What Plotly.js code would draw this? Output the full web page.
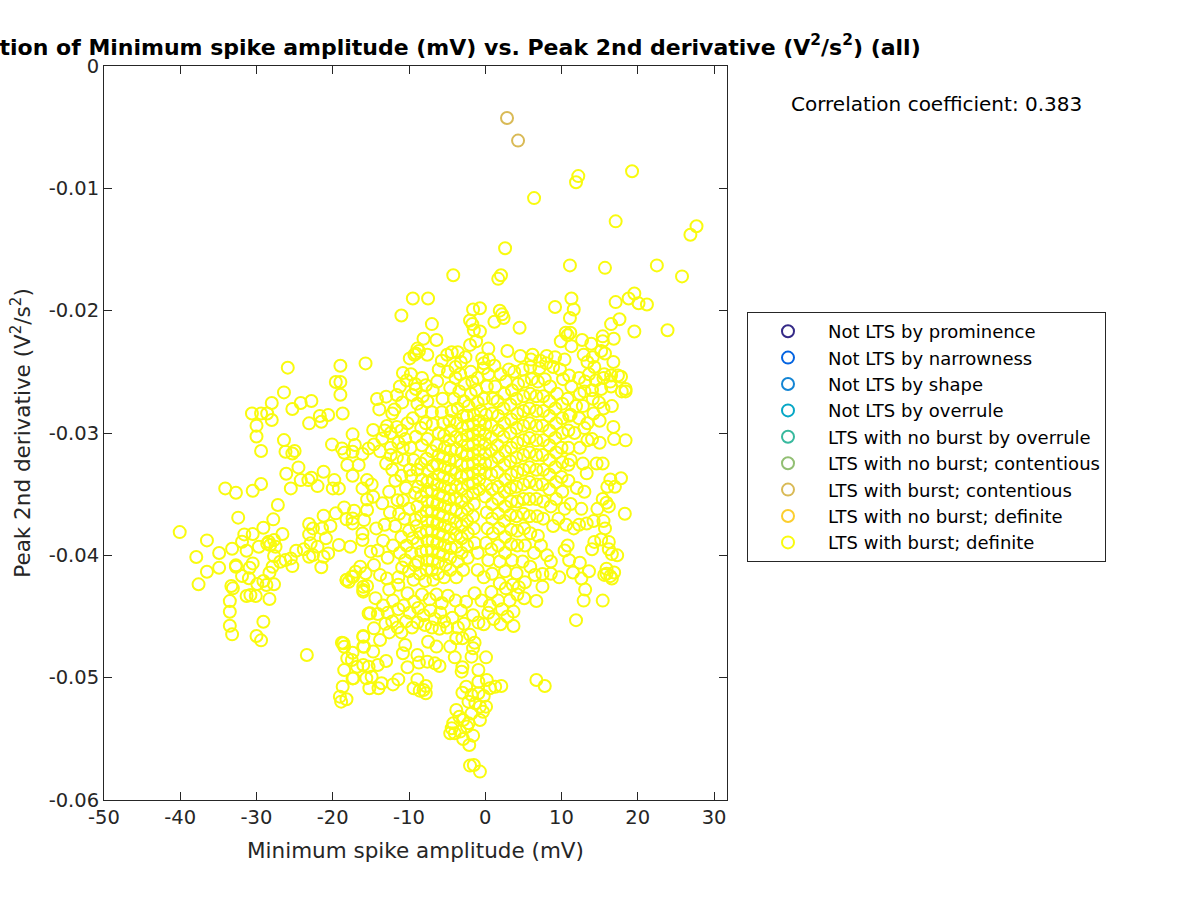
<!DOCTYPE html>
<html><head><meta charset="utf-8">
<script src="https://cdn.plot.ly/plotly-3.0.1.min.js"></script>
<style>html,body{margin:0;padding:0;background:#fff}</style></head>
<body><div id="chart" style="width:1200px;height:900px"></div>
<script>
const categories=["Not LTS by prominence","Not LTS by narrowness","Not LTS by shape","Not LTS by overrule","LTS with no burst by overrule","LTS with no burst; contentious","LTS with burst; contentious","LTS with no burst; definite","LTS with burst; definite"];
const colors=["#352A87","#0363E1","#1485D4","#06A7C6","#38B99E","#92BF73","#D9BA56","#FCCE2E","#F9FB0E"];
const xTicks=[-50,-40,-30,-20,-10,0,10,20,30];
const xTickLabels=["-50","-40","-30","-20","-10","0","10","20","30"];
const yTicks=[0,-0.01,-0.02,-0.03,-0.04,-0.05,-0.06];
const yTickLabels=["0","-0.01","-0.02","-0.03","-0.04","-0.05","-0.06"];
const burstContentious=[[2.85,-.00425],[4.3,-.0061]];
const burstDefiniteOuter=[[12.2,-.009],[11.9,-.0095],[19.25,-.0086],[6.4,-.0108],[17.1,-.0127],[27.7,-.0131],[26.9,-.0138],[2.6,-.0149],[11.1,-.0163],[15.7,-.0165],[22.5,-.0163],[25.8,-.0172],[-4.2,-.0171],[2.06,-.0171],[1.7,-.0174],[-9.5,-.019],[-7.5,-.019],[-11,-.0204],[-.7,-.0198],[-1.6,-.0199],[1.9,-.02],[2.2,-.0203],[2.4,-.0206],[1.2,-.0209],[-2,-.0208],[-1.7,-.0211],[-1.5,-.0216],[-.7,-.0217],[-1.2,-.0225],[-2,-.0228],[.4,-.0231],[4.5,-.0214],[2.9,-.0233],[-7,-.0211],[-8.1,-.0223],[-6.4,-.0224],[-8.9,-.0231],[-9.1,-.0235],[-9.75,-.0252],[-8.3,-.0255],[-9.2,-.026],[-7.8,-.0261],[9.15,-.0197],[11.3,-.019],[11.6,-.0199],[11.1,-.0206],[17.1,-.0193],[19.55,-.0186],[18.8,-.019],[20.1,-.0194],[21.2,-.0195],[17.6,-.0207],[16.5,-.0211],[19.55,-.0217],[23.9,-.0216],[10.55,-.0218],[11.15,-.0218],[10.8,-.022],[9.9,-.0225],[12.7,-.0224],[11.3,-.0229],[15.4,-.0221],[15.4,-.0225],[16.85,-.0223],[13.9,-.0227],[15.2,-.0233],[15.7,-.0235],[16.8,-.0242],[17.4,-.0253],[16.5,-.0253],[15.5,-.0255],[18.4,-.0264],[4.6,-.0237],[6.2,-.0236],[6,-.024],[8.05,-.0237],[9.15,-.0238],[12.9,-.0236],[14.1,-.0238],[13.4,-.0242],[14.3,-.0246],[10.4,-.024],[7.2,-.0241],[-40.07,-.0381],[-36.5,-.03878],[-37.9,-.04014],[-34.9,-.03981],[-36.5,-.04134],[-34.9,-.04101],[-37.6,-.04237],[-33.2,-.03946],[-32.4,-.03692],[-34.1,-.03453],[-32.7,-.03488],[-30.5,-.03472],[-29.4,-.03417],[-26.1,-.03333],[-25.5,-.03453],[-27.2,-.03589],[-27.8,-.03706],[-29.1,-.03774],[-31.6,-.03829],[-30.5,-.03826],[-31.9,-.03889],[-31.3,-.03962],[-29.7,-.0393],[-32.7,-.04082],[-32.7,-.04093],[-30.5,-.04066],[-30.9,-.04101],[-31.9,-.04169],[-31,-.04188],[-33.3,-.04251],[-33.1,-.0427],[-31.3,-.04333],[-30.8,-.04325],[-30.1,-.04333],[-28.3,-.04357],[-33.5,-.04374],[-33.5,-.04461],[-33.5,-.04575],[-33.2,-.04646],[-29.1,-.04543],[-30,-.0466],[-29.4,-.04695],[-23.4,-.04815],[-29.9,-.04235],[-29.1,-.0421],[-28.7,-.04243],[-27.7,-.04237],[-28.3,-.04142],[-27.9,-.04093],[-27.7,-.04006],[-26.9,-.04052],[-26.2,-.04039],[-25.3,-.04088],[-25.5,-.04025],[-24.8,-.03962],[-23.8,-.03951],[-23.1,-.04011],[-22.6,-.03998],[-21.5,-.04098],[-21.2,-.04011],[-20.6,-.03984],[-28.2,-.03916],[-27.7,-.03875],[-28.4,-.03889],[-27.5,-.0393],[-26.6,-.03826],[-28.6,-.03905],[-23.1,-.03744],[-22.6,-.0378],[-23.1,-.03829],[-22.9,-.03902],[-22,-.0393],[-21.2,-.03676],[-20.3,-.0376],[-21.4,-.0378],[-20.9,-.03861],[-19.6,-.03657],[-18.5,-.03608],[-18.2,-.03706],[-17.2,-.03635],[-17.4,-.03739],[-17.4,-.03698],[-15.9,-.03712],[-15.5,-.0363],[-19.2,-.03916],[-17.7,-.0393],[-16.1,-.03821],[-16.1,-.03875],[-15,-.0397],[-18.2,-.04202],[-17.5,-.04175],[-16.4,-.04093],[-17,-.04134],[-17.9,-.04216],[-16,-.04257],[-16,-.04297],[-15.7,-.04147],[-15.3,-.04475],[-14.6,-.04597],[-16,-.04665],[-18.8,-.04714],[-18.5,-.04747],[-15.9,-.04747],[-17.4,-.04796],[-18.1,-.04842],[-18.5,-.04938],[-16.8,-.04911],[-17.4,-.05006],[-15.3,-.04911],[-25.9,-.02466],[-19,-.0245],[-15.7,-.02431],[-19.6,-.02583],[-19,-.02583],[-19,-.02687],[-26.4,-.02668],[-28,-.02755],[-22.8,-.02739],[-24.2,-.02755],[-25.3,-.02804],[-30.6,-.0284],[-29.4,-.0284],[-28.6,-.0284],[-28,-.02894],[-30,-.0294],[-30,-.03028],[-29.4,-.03147],[-26.4,-.03058],[-26.2,-.03153],[-25.3,-.03167],[-25,-.03147],[-24.5,-.03281],[-24.2,-.03385],[-23.1,-.02921],[-21.7,-.02861],[-21.5,-.02908],[-20.6,-.02853],[-18.7,-.0284],[-22.8,-.03366],[-23.2,-.03385],[-22,-.03434],[-21.2,-.03317],[-19.8,-.03385],[-20,-.03453],[-19.2,-.03453],[-20.1,-.03093],[-18.8,-.03126],[-18.5,-.03161],[-17.4,-.03011],[-17.1,-.03098],[-17.4,-.03153],[-16.1,-.03172],[-15.3,-.03126],[-14.6,-.03093],[-18.1,-.03262],[-16.6,-.03262],[-17.4,-.03349],[-15.5,-.03385],[-16.1,-.03453],[-14.9,-.0342],[-15.5,-.03543],[-14.7,-.03521],[-13.5,-.03575],[-14.2,-.02722],[-13,-.02703],[-11.6,-.0269],[-13.9,-.02807],[-12.2,-.0284],[-11.9,-.02807],[-14.7,-.02976],[-12.9,-.02943],[-13.5,-.03044],[-11.6,-.0295],[-13.2,-.0298],[-12.4,-.03],[-13.8,-.0315],[-13,-.0325],[-12.4,-.0318],[-11.4,-.0308]];
const burstDefiniteRight=[[16.5,-.0262],[15.2,-.0264],[14,-.0265],[13,-.0266],[17.8,-.0254],[16.4,-.0258],[15.6,-.0252],[13.6,-.0252],[14.5,-.0257],[17.9,-.0266],[18.4,-.0266],[16.6,-.0278],[15.5,-.028],[14.9,-.0275],[14.1,-.0272],[12.8,-.0278],[14.2,-.0284],[15,-.029],[16.8,-.0295],[16.9,-.0305],[15,-.0308],[14,-.0305],[15.4,-.0325],[14.6,-.0325],[16.4,-.0338],[16,-.0344],[17,-.0344],[18.4,-.0306],[17.8,-.0337],[15.4,-.0354],[15.9,-.0357],[14.7,-.0362],[16.2,-.036],[18.3,-.0366],[15.5,-.0372],[14.2,-.0372],[13.3,-.0374],[15.7,-.0378],[16.2,-.0389],[16.2,-.0395],[15.2,-.0387],[14.3,-.0389],[14,-.0395],[17.3,-.04],[16.6,-.0399],[15.9,-.0411],[16.4,-.0417],[15.6,-.0416],[16.9,-.0414],[16.6,-.0419],[15.9,-.0415],[11,-.0404],[12.4,-.0406],[11.5,-.0414],[13.6,-.0413],[12.6,-.0419],[13.1,-.0428],[12.9,-.0437],[15.4,-.0437],[11.9,-.0453],[9.7,-.0418],[8.6,-.0405],[8.6,-.0415],[8.1,-.04],[10.4,-.0396],[10.8,-.0392],[11.6,-.0378],[12.3,-.0375],[10.6,-.0375],[12.6,-.0362],[11.2,-.0358],[13,-.0348],[12,-.0345],[13.3,-.0333],[12.8,-.0325],[11.2,-.0322],[12.4,-.0312],[13.4,-.0306],[11.7,-.03],[13,-.0296],[12.3,-.0288],[13.4,-.0292],[11.2,-.0285],[11.9,-.0278],[10.8,-.0272],[12.4,-.0268],[11.3,-.0262],[13.1,-.0258],[12.3,-.0255],[11,-.0253],[10.2,-.0256],[9.8,-.0248],[8.9,-.0246],[8,-.0243],[7.1,-.0247],[5.9,-.0246],[4.9,-.0248],[3.8,-.025],[3.1,-.0248],[2,-.0252],[1.2,-.0245],[.5,-.024],[-.2,-.0243],[-.4,-.0239],[-.2,-.0247],[-2.6,-.0238],[-3.2,-.0242],[-3.6,-.0234],[-3.9,-.0246],[-4.4,-.0234],[-5,-.0236],[-5.7,-.0241],[-6.1,-.0248],[-7.6,-.0236],[-8.7,-.0233],[-9.3,-.0236],[-9.9,-.0239],[-10.8,-.0251],[-10.3,-.0257],[-9.1,-.0264],[-9.6,-.0269],[-11.2,-.0262],[-10.9,-.0275],[-8.9,-.0276],[-8.2,-.027]];
const burstDefiniteLower=[[-.7,-.05768],[-1.5,-.05714],[-2,-.05719],[-2.1,-.0555],[-1.6,-.05474],[-2.9,-.05501],[-.7,-.05346],[-4.4,-.05414],[-4.6,-.05455],[-4,-.05455],[-3.3,-.05441],[-2.4,-.054],[-3.8,-.05264],[-3.4,-.05319],[-4.2,-.05373],[-2.2,-.05373],[-2.9,-.05346],[-1.8,-.05292],[-.3,-.05278],[.1,-.05237],[-.7,-.05237],[-2.2,-.05196],[-1.3,-.0521],[-3,-.05123],[-2.5,-.05074],[-1.8,-.05142],[-.9,-.05128],[-.2,-.0515],[.6,-.05087],[1.3,-.05074],[2.1,-.05068],[.2,-.05019],[-.9,-.05033],[-.9,-.04937],[-3.1,-.04951],[-3,-.04915],[-4,-.04834],[.1,-.04834],[-1.8,-.04828],[-1.6,-.0476],[-1.4,-.04714],[-3,-.04678],[-3.8,-.04678],[-4.6,-.04746],[-6,-.04905],[-6.6,-.04883],[-7.6,-.04869],[-8.7,-.04877],[-8.9,-.04815],[-10.2,-.04915],[-10.8,-.04801],[-8.9,-.05014],[-9.4,-.05087],[-7.8,-.05068],[-7.8,-.05128],[-8.6,-.05106],[-8.1,-.05101],[-11.4,-.05014],[-12.1,-.05055],[-13.6,-.05046],[-14,-.05087],[-15.2,-.05087],[-14.9,-.04992],[-15.6,-.05005],[-13,-.04864],[-14.1,-.04896],[-16,-.04896],[-17.3,-.05005],[-17.5,-.04855],[-18.6,-.04719],[-18.7,-.05074],[-18.2,-.05177],[-18.9,-.05196],[-19.07,-.05155],[-14.7,-.04787],[-16,-.04659],[-16,-.04746],[-13.8,-.04692],[-10.5,-.04733],[-7.5,-.04706],[-6.4,-.04746],[-15.1,-.04474],[6.7,-.04373],[6.7,-.05019],[7.8,-.05068],[3.7,-.04578],[2,-.04564],[-.2,-.04564],[3.7,-.0446],[5.1,-.04351],[7.5,-.04256],[5.9,-.04093],[7.5,-.04153],[6.5,-.04161],[4.1,-.04147],[-18.2,-.04202],[-16,-.04283],[-17.3,-.04174],[-13.8,-.0416],[-15.5,-.0425],[-12.6,-.0428],[-14.4,-.0435],[-13.4,-.0441],[-14.1,-.0448],[-12.8,-.0447],[-12.1,-.0437],[-11.4,-.0444],[-12.2,-.0454],[-13.1,-.0456],[-11.5,-.0459],[-10.7,-.0441],[-9.9,-.0447],[-10.4,-.0454],[-9.6,-.0459],[-11,-.0463],[-12.6,-.0463],[-8.8,-.0443],[-8.1,-.0449],[-8.9,-.0455],[-7.9,-.0457],[-7.2,-.0445],[-6.6,-.0452],[-7,-.0459],[-5.9,-.0447],[-5.4,-.0454],[-6,-.046],[-5,-.0459],[-4.3,-.0451],[-3.6,-.0459],[-2.8,-.0456],[-2,-.0465],[-3.2,-.0445],[-1.6,-.0449],[-.9,-.0455],[.4,-.0447],[1.1,-.0452],[.6,-.0441],[2.2,-.0444],[2.9,-.045],[1.7,-.0437],[3.2,-.0437],[4.2,-.0432],[4.4,-.0426],[3.6,-.0424],[5.2,-.0422],[2.7,-.0427],[1.9,-.0423],[.8,-.043],[-.5,-.0437],[-1.4,-.0431],[-2.5,-.0438],[-3.9,-.0437],[-4.9,-.0433],[-5.7,-.0439],[-6.4,-.0432],[-7.3,-.0436],[-8.3,-.0432],[-9.3,-.0438],[-10.2,-.0431],[-11.4,-.0424],[-12.9,-.0419],[-14.6,-.0408],[-14.1,-.0396],[-12.8,-.0402],[-13.4,-.0388],[-12.1,-.0392],[-13.2,-.0375],[-14.3,-.0378],[-12.5,-.0365],[-11.8,-.0376],[-11.3,-.0366],[-11.5,-.0355],[-12.6,-.0348],[-11.8,-.0339],[-12.2,-.033]];
const burstDefiniteCore=[[-11,-.0335],[-10.4,-.0345],[-9.7,-.0335],[-10.8,-.0355],[-10,-.0362],[-9.2,-.0349],[-10.6,-.037],[-10,-.038],[-9.2,-.0371],[-11,-.0385],[-10.3,-.0392],[-9.5,-.0386],[-11.2,-.0398],[-10.5,-.0404],[-9.7,-.0398],[-10.9,-.041],[-10,-.0413],[-9.2,-.0408],[-11.4,-.0418],[-9.4,-.042],[-8.6,-.0415],[-8.8,-.0405],[-8.4,-.0397],[-8.9,-.039],[-8.5,-.0382],[-9,-.0376],[-8.4,-.0368],[-8.9,-.036],[-8.4,-.0352],[-8.8,-.0344],[-8.3,-.0338],[-8.9,-.033],[-9.4,-.0322],[-8.4,-.0325],[-9.8,-.0312],[-10.5,-.0305],[-9.1,-.0303],[-8.3,-.031],[-7.6,-.0305],[-7,-.0315],[-7.7,-.0321],[-7.5,-.0331],[-6.9,-.0327],[-7.6,-.034],[-6.9,-.0338],[-7.7,-.0348],[-7,-.0347],[-7.6,-.0356],[-6.9,-.0356],[-7.7,-.0364],[-7,-.0364],[-7.6,-.0372],[-6.9,-.0372],[-7.7,-.038],[-7,-.038],[-7.6,-.0388],[-6.9,-.0388],[-7.7,-.0396],[-7,-.0396],[-7.6,-.0404],[-6.9,-.0404],[-7.7,-.0412],[-7,-.0412],[-7.9,-.0421],[-6.8,-.042],[-6.2,-.0415],[-6.2,-.0406],[-6.1,-.0398],[-6.3,-.039],[-6.1,-.0382],[-6.3,-.0374],[-6.1,-.0366],[-6.3,-.0358],[-6.1,-.035],[-6.3,-.0342],[-6.1,-.0334],[-6.3,-.0326],[-6.1,-.0318],[-6.4,-.031],[-6.1,-.03],[-6.9,-.0293],[-7.8,-.0292],[-5.5,-.0292],[-5.4,-.0302],[-5.3,-.0312],[-5.5,-.032],[-5.3,-.0328],[-5.5,-.0336],[-5.3,-.0344],[-5.5,-.0352],[-5.3,-.036],[-5.5,-.0368],[-5.3,-.0376],[-5.5,-.0384],[-5.3,-.0392],[-5.5,-.04],[-5.2,-.0408],[-5.4,-.0418],[-4.6,-.0412],[-4.6,-.0402],[-4.5,-.0394],[-4.7,-.0386],[-4.5,-.0378],[-4.7,-.037],[-4.5,-.0362],[-4.7,-.0354],[-4.5,-.0346],[-4.7,-.0338],[-4.5,-.033],[-4.7,-.0322],[-4.5,-.0314],[-4.7,-.0306],[-4.5,-.0298],[-4.7,-.029],[-4.4,-.0282],[-4.1,-.0272],[-4.6,-.0263],[-3.9,-.0255],[-4.9,-.025],[-3.3,-.0252],[-2.7,-.026],[-3.4,-.0266],[-2.8,-.0274],[-3.6,-.028],[-2.9,-.0286],[-3.7,-.0292],[-3,-.0296],[-3.8,-.0303],[-3.1,-.0306],[-3.8,-.0313],[-3.1,-.0316],[-3.8,-.0323],[-3.1,-.0326],[-3.8,-.0333],[-3.1,-.0336],[-3.8,-.0343],[-3.1,-.0346],[-3.8,-.0353],[-3.1,-.0356],[-3.8,-.0363],[-3.1,-.0366],[-3.8,-.0373],[-3.1,-.0376],[-3.8,-.0383],[-3.1,-.0386],[-3.8,-.0393],[-3.1,-.0398],[-3.6,-.0405],[-2.9,-.0412],[-3.8,-.0418],[-2.3,-.0402],[-2.4,-.0392],[-2.3,-.0382],[-2.4,-.0372],[-2.3,-.0362],[-2.4,-.0352],[-2.3,-.0342],[-2.4,-.0334],[-2.3,-.0326],[-2.4,-.0318],[-2.3,-.031],[-2.4,-.0302],[-2.3,-.0294],[-2.4,-.0286],[-2.2,-.0278],[-1.9,-.0268],[-1.7,-.0258],[-1.9,-.025],[-1,-.0255],[-1.2,-.0265],[-1,-.0275],[-1.5,-.0285],[-1.6,-.0293],[-1.6,-.0301],[-1.6,-.0309],[-1.6,-.0317],[-1.6,-.0325],[-1.6,-.0333],[-1.6,-.0341],[-1.6,-.0349],[-1.5,-.0358],[-1.6,-.0368],[-1.5,-.0378],[-1.4,-.039],[-1,-.0412],[-.2,-.0418],[-1,-.0398],[-.8,-.0346],[-.8,-.0338],[-.8,-.033],[-.8,-.0322],[-.8,-.0314],[-.8,-.0306],[-.8,-.0298],[-.8,-.029],[-.6,-.0282],[-.2,-.0272],[.2,-.0262],[.4,-.0252],[.1,-.0285],[0,-.0293],[0,-.0301],[0,-.0309],[0,-.0317],[0,-.0325],[0,-.0333],[.1,-.0342],[0,-.0352],[.2,-.0365],[.3,-.0378],[.1,-.039],[.4,-.0404],[.9,-.0415],[.8,-.0395],[1,-.0382],[.9,-.037],[.9,-.0358],[.9,-.0346],[.8,-.0334],[.8,-.0324],[.8,-.0314],[.8,-.0304],[.8,-.0294],[.9,-.0284],[1,-.0272],[1.3,-.0262],[1.6,-.0274],[1.7,-.0286],[1.7,-.0298],[1.6,-.031],[1.7,-.032],[1.6,-.0332],[1.7,-.0344],[1.7,-.0354],[1.7,-.0366],[1.8,-.0378],[1.7,-.0392],[1.9,-.0405],[2.6,-.0413],[2.6,-.0398],[2.6,-.0385],[2.5,-.0372],[2.6,-.036],[2.5,-.0348],[2.6,-.0338],[2.5,-.0326],[2.6,-.0315],[2.4,-.0303],[2.5,-.0292],[2.4,-.028],[2.5,-.0268],[2.7,-.0258],[3.5,-.0265],[3.3,-.0277],[3.4,-.0289],[3.3,-.03],[3.4,-.0312],[3.3,-.0323],[3.4,-.0334],[3.3,-.0345],[3.4,-.0356],[3.3,-.0367],[3.4,-.0379],[3.4,-.0391],[3.5,-.0404],[4.2,-.0392],[4.2,-.038],[4.1,-.0368],[4.2,-.0356],[4.1,-.0344],[4.2,-.0332],[4.1,-.032],[4.2,-.0308],[4.1,-.0296],[4.2,-.0284],[4.1,-.0272],[4.3,-.026],[5.1,-.0258],[5,-.027],[5,-.0282],[5,-.0294],[5,-.0306],[5,-.0318],[5,-.033],[5,-.0342],[5,-.0354],[5,-.0366],[5.1,-.0378],[5.2,-.0392],[5.9,-.0382],[5.8,-.0368],[5.8,-.0354],[5.8,-.034],[5.8,-.0328],[5.8,-.0316],[5.8,-.0304],[5.8,-.0292],[5.8,-.028],[5.9,-.0268],[6.1,-.0256],[6.9,-.0258],[6.7,-.027],[6.7,-.0282],[6.7,-.0294],[6.7,-.0306],[6.7,-.0318],[6.7,-.033],[6.7,-.0342],[6.7,-.0354],[6.8,-.0368],[6.9,-.0384],[7.6,-.037],[7.6,-.0356],[7.5,-.0342],[7.6,-.033],[7.5,-.0318],[7.6,-.0306],[7.5,-.0294],[7.6,-.0282],[7.6,-.027],[7.8,-.0256],[8.5,-.0262],[8.4,-.0274],[8.4,-.0286],[8.4,-.0298],[8.4,-.031],[8.4,-.0322],[8.4,-.0334],[8.4,-.0346],[8.6,-.036],[8.9,-.0376],[9.3,-.0354],[9.3,-.034],[9.2,-.0328],[9.3,-.0316],[9.2,-.0304],[9.3,-.0292],[9.2,-.028],[9.4,-.0268],[10.1,-.0276],[10.1,-.0288],[10.1,-.03],[10,-.0312],[10.1,-.0324],[10,-.0336],[10.1,-.0348],[10.4,-.0362],[10.9,-.0339],[10.9,-.0326],[10.9,-.0312],[10.9,-.0298],[11,-.0286],[9.6,-.037],[7.3,-.0392],[6.4,-.0398],[4.9,-.0405],[-12.4,-.0312],[-11.6,-.032],[-10.8,-.0312],[-10.7,-.0322],[-9.9,-.033],[-8.4,-.0296],[-9.5,-.0288],[-8.4,-.0282],[-7.6,-.0274],[-6.9,-.0265],[-6.3,-.0258],[-5.6,-.0272],[-5.7,-.0283],[-7,-.0283],[-10.2,-.0292],[-11,-.0298]];
const burstDefinite=[...burstDefiniteOuter,...burstDefiniteRight,...burstDefiniteLower,...burstDefiniteCore];
const seriesPoints=[[],[],[],[],[],[],burstContentious,[],burstDefinite];
const traces=categories.map((name,i)=>{
  const pts=seriesPoints[i];
  return {type:'scatter',mode:'markers',name:name,legendgroup:'g'+i,
    x:pts.length?pts.map(p=>p[0]):[null],
    y:pts.length?pts.map(p=>p[1]):[null],
    marker:{symbol:'circle-open',size:12,color:colors[i],line:{width:2,color:colors[i]}},
    hoverinfo:'skip'};
});
const ink='#262626';
const font='"DejaVu Sans", sans-serif';
const layout={
  width:1200,height:900,autosize:false,showlegend:true,
  paper_bgcolor:'#fff',plot_bgcolor:'#fff',
  margin:{l:104,r:473,t:66,b:100,pad:0},
  font:{family:font,color:ink,size:20},
  title:{text:'Correlation of Minimum spike amplitude (mV) vs. Peak 2nd derivative (V<sup>2</sup>/s<sup>2</sup>) (all)',
    font:{family:font,size:22,weight:700,color:'#000'},x:(415-0)/1200,xanchor:'center',xref:'container',y:1-47/900,yanchor:'middle',yref:'container'},
  xaxis:{range:[-50,31.7],tickvals:xTicks,ticktext:xTickLabels,ticks:'inside',ticklen:8,tickwidth:1,tickcolor:ink,
    showline:true,linecolor:ink,linewidth:1,mirror:'allticks',showgrid:false,zeroline:false,
    tickfont:{size:19.5,color:ink},title:{text:'Minimum spike amplitude (mV)',font:{size:21.5,color:ink},standoff:14}},
  yaxis:{range:[-0.06,0],tickvals:yTicks,ticktext:yTickLabels,ticks:'inside',ticklen:8,tickwidth:1,tickcolor:ink,
    showline:true,linecolor:ink,linewidth:1,mirror:'allticks',showgrid:false,zeroline:false,
    tickfont:{size:19.5,color:ink},title:{text:'Peak 2nd derivative (V<sup>2</sup>/s<sup>2</sup>)',font:{size:21.5,color:ink},standoff:12}},
  legend:{x:(747-104)/623,xanchor:'left',y:(800-312)/734,yanchor:'top',xref:'paper',yref:'paper',
    bordercolor:ink,borderwidth:1,bgcolor:'#fff',font:{size:18,color:'#000',family:font},
    itemwidth:70,tracegroupgap:3,traceorder:'normal',itemclick:false,itemdoubleclick:false},
  annotations:[{text:'Correlation coefficient: 0.383',xref:'paper',yref:'paper',x:(789-104)/623,y:(800-104)/734,
    xanchor:'left',yanchor:'middle',showarrow:false,font:{size:20,color:'#000',family:font}}]
};
Plotly.newPlot('chart',traces,layout,{displayModeBar:false,staticPlot:false});
</script></body></html>
